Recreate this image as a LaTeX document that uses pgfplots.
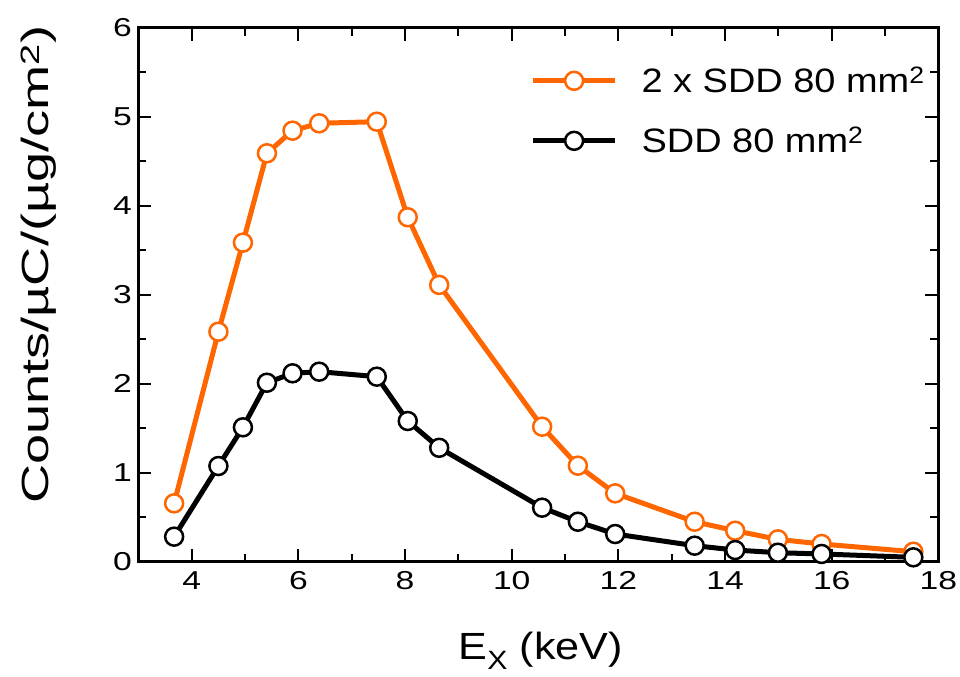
\documentclass[border=0pt]{standalone}
\usepackage{pgfplots}
\pgfplotsset{compat=1.18}
\usepackage{fontspec}
\setmainfont{Liberation Sans}
\newfontfamily\tickfont{Liberation Sans}[FakeStretch=1.3]
\newfontfamily\xlabfont{Liberation Sans}[FakeStretch=1.14]
\newfontfamily\ylabfont{Liberation Sans}[FakeStretch=1.43]
\newfontfamily\legfont{Liberation Sans}[FakeStretch=1.12]
\definecolor{sddorange}{RGB}{255,102,0}
\begin{document}
\begin{tikzpicture}
\useasboundingbox (-138.4bp,-115.3bp) rectangle (821.6bp,561.7bp);
\begin{axis}[
  scale only axis,
  width=800bp, height=534bp,
  xmin=3, xmax=18, ymin=0, ymax=6,
  xtick={4,6,...,18}, ytick={0,1,...,6},
  minor x tick num=1, minor y tick num=1,
  tick align=inside,
  major tick length=13bp, minor tick length=8bp,
  every tick/.style={black, line width=2bp},
  axis line style={line width=2.5bp},
  /pgf/number format/assume math mode=true,
  ticklabel style={font=\tickfont\fontsize{26}{30}\selectfont},
  xticklabel style={yshift=-6bp},
  yticklabel style={xshift=-3bp},
  xlabel={\xlabfont E\textsubscript{X} (keV)},
  ylabel={\ylabfont Counts/µC/(µg/cm\textsuperscript{2})},
  xlabel style={font=\fontsize{38}{44}\selectfont, at={(axis description cs:0.503,-0.184)}, anchor=base},
  ylabel style={font=\fontsize{38}{42}\selectfont, at={(axis description cs:-0.112,0.556)}, anchor=base},
  legend style={draw=none, fill=none, at={(axis description cs:0.49,0.93)}, anchor=north west,
    font=\legfont\fontsize{34}{38}\selectfont, row sep=29bp, inner sep=0pt,
    /tikz/every odd column/.append style={column sep=22bp}},
  legend cell align=left,
  legend image code/.code={\draw[mark repeat=2, mark phase=2] plot coordinates {(0bp,0bp) (41bp,0bp) (82bp,0bp)};},
  mark size=9bp,
]
\addplot[sddorange, line width=5bp, mark=*, mark options={fill=white, draw=sddorange, line width=2.5bp}] coordinates {
(3.67,0.656) (4.50,2.584) (4.96,3.585) (5.41,4.589) (5.89,4.843) (6.39,4.926) (7.47,4.944)
(8.05,3.87) (8.64,3.11) (10.57,1.517) (11.24,1.079) (11.94,0.768) (13.43,0.449) (14.19,0.348)
(14.99,0.251) (15.81,0.199) (17.53,0.112)
};
\addlegendentry{2 x SDD 80 mm\textsuperscript{2}}
\addplot[black, line width=5bp, mark=*, mark options={fill=white, draw=black, line width=2.5bp}] coordinates {
(3.67,0.281) (4.50,1.075) (4.96,1.51) (5.41,2.011) (5.89,2.117) (6.39,2.135) (7.47,2.079)
(8.05,1.581) (8.64,1.28) (10.57,0.607) (11.24,0.449) (11.94,0.311) (13.43,0.18) (14.19,0.131)
(14.99,0.101) (15.81,0.087) (17.53,0.049)
};
\addlegendentry{SDD 80 mm\textsuperscript{2}}
\end{axis}
\end{tikzpicture}
\end{document}
